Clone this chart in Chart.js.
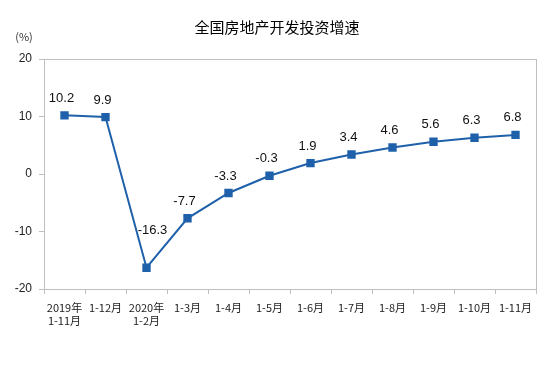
<!DOCTYPE html>
<html><head><meta charset="utf-8">
<script src="https://cdn.jsdelivr.net/npm/chart.js@4/dist/chart.umd.min.js"></script>
<style>html,body{margin:0;padding:0;background:#fff;}#w{width:554px;height:367px;position:relative;}</style>
</head><body><div id="w"><canvas id="c"></canvas></div>
<script>
const title = "全国房地产开发投资增速";
const unitLabel = "(%)";
const categories = [["2019年","1-11月"],"1-12月",["2020年","1-2月"],"1-3月","1-4月","1-5月","1-6月","1-7月","1-8月","1-9月","1-10月","1-11月"];
const growth = [10.2, 9.9, -16.3, -7.7, -3.3, -0.3, 1.9, 3.4, 4.6, 5.6, 6.3, 6.8];
const yTicks = [-20, -10, 0, 10, 20];

const lineColor = "#1F60AB";
const axisColor = "#BFBFBF";

const decor = {
  id: "decor",
  afterDraw(chart) {
    const ctx = chart.ctx, a = chart.chartArea;
    ctx.save();
    ctx.strokeStyle = axisColor; ctx.lineWidth = 1;
    ctx.strokeRect(Math.round(a.left) + 0.5, Math.round(a.top) + 0.5, Math.round(a.right - a.left), Math.round(a.bottom - a.top));
    ctx.fillStyle = "#000";
    ctx.font = "15px 'Noto Sans CJK SC'";
    ctx.textAlign = "center"; ctx.textBaseline = "middle";
    ctx.fillText(title, 277, 27);
    ctx.font = "11px 'Noto Sans CJK SC'";
    ctx.fillStyle = "#333";
    ctx.fillText(unitLabel, 24, 37);
    const meta = chart.getDatasetMeta(0);
    ctx.font = "13px 'Liberation Sans'";
    ctx.fillStyle = "#111";
    meta.data.forEach((p, i) => {
      const v = growth[i];
      let dx = -3, dy = -17;
      if (v < -10) { dx = 6; dy = -37; }
      ctx.fillText(v.toFixed(1), p.x + dx, p.y + dy);
    });
    ctx.restore();
  }
};

new Chart(document.getElementById("c"), {
  type: "line",
  data: { labels: categories, datasets: [{
    data: growth, borderColor: lineColor, backgroundColor: lineColor,
    borderWidth: 2, pointStyle: "rect", pointRadius: 4.5, pointHoverRadius: 4.5,
    tension: 0, fill: false
  }]},
  options: {
    responsive: true, maintainAspectRatio: false, animation: false,
    layout: { padding: { top: 59, right: 18, left: 0, bottom: 0 } },
    plugins: { legend: { display: false }, tooltip: { enabled: false }, title: { display: false } },
    scales: {
      x: {
        offset: true,
        grid: { display: true, drawOnChartArea: false, drawTicks: true, tickLength: 5, offset: true, color: axisColor },
        border: { display: true, color: axisColor },
        ticks: { color: "#222", font: { size: 11, family: "'Noto Sans CJK SC'" }, padding: 7, maxRotation: 0, autoSkip: false },
        afterFit(s) { s.height = 78; }
      },
      y: {
        min: -20, max: 20,
        afterBuildTicks(s) { s.ticks = yTicks.map(v => ({ value: v })); },
        grid: { display: true, drawOnChartArea: false, drawTicks: true, tickLength: 5, color: axisColor },
        border: { display: true, color: axisColor },
        ticks: { color: "#222", font: { size: 12, family: "'Liberation Sans'" }, padding: 7 },
        afterFit(s) { s.width = 44; }
      }
    }
  },
  plugins: [decor]
});
</script></body></html>
